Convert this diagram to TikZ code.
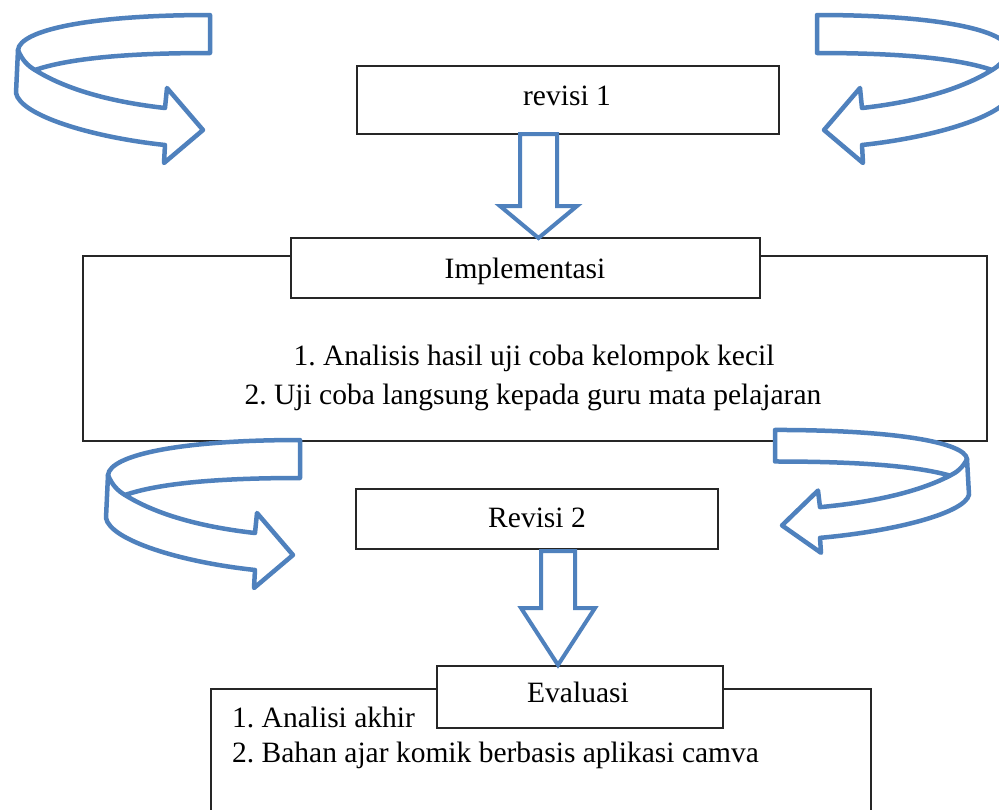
\documentclass[tikz,border=0pt]{standalone}
\usepackage{fontspec}
\setmainfont{Liberation Serif}
\frenchspacing
\definecolor{ob}{RGB}{79,129,189}
\tikzset{
  box/.style={draw=black!85, line width=1.3pt, fill=white, inner sep=0pt},
  txt/.style={font=\fontsize{29.5}{35}\selectfont, inner sep=0pt, anchor=base},
  rib/.style={draw=ob, line width=4.5pt, fill=white, line join=round, line cap=round},
  ribline/.style={draw=ob, line width=4.5pt, line cap=round},
  blockarrow/.style={draw=ob, line width=4pt, fill=white, line join=miter},
}
\newcommand\ribbonarrow[1]{%
  \begin{scope}[#1]
    \path[rib] (210,15) -- (210,53) .. controls (130,53) and (70,58) .. (35,70)
      .. controls (70,92) and (120,103) .. (165,108) -- (167,88) -- (203,130)
      -- (164,163) -- (165,145) .. controls (90,137) and (20,115) .. (16,93)
      -- (18,50) .. controls (20,30) and (90,15) .. (210,15) -- cycle;
    \draw[ribline] (18,50) .. controls (22,60) and (28,66) .. (35,70);
  \end{scope}}
\begin{document}
\begin{tikzpicture}[x=1pt,y=-1pt]
\useasboundingbox (0,0) rectangle (999,809);
\fill[white] (0,0) rectangle (999,809);
% boxes
\node[box, minimum width=904pt, minimum height=185pt] (big) at (535,348.5) {};
\node[box, minimum width=469pt, minimum height=60pt] (imp) at (525.5,268) {};
\node[box, minimum width=422pt, minimum height=68pt] (r1) at (568,100) {};
\node[box, minimum width=362pt, minimum height=60pt] (r2) at (537,519) {};
\node[box, minimum width=660pt, minimum height=141pt] (bot) at (541,759.5) {};
\node[box, minimum width=286pt, minimum height=62pt] (ev) at (580,697) {};
% texts
\node[txt] (t1) at (567,105) {revisi 1};
\node[txt] (t2) at (525,278) {Implementasi};
\node[txt] (t3) at (534,365) {1. Analisis hasil uji coba kelompok kecil};
\node[txt] (t4) at (533,404) {2. Uji coba langsung kepada guru mata pelajaran};
\node[txt] (t5) at (537,527) {Revisi 2};
\node[txt] (t6) at (578,702) {Evaluasi};
\node[txt, anchor=base west] (t7) at (232,727) {1. Analisi akhir};
\node[txt, anchor=base west] (t8) at (232,762) {2. Bahan ajar komik berbasis aplikasi camva};
% block arrows
\path[blockarrow] (520,134) -- (520,206) -- (500,206) -- (538.5,238) -- (577,206) -- (557,206) -- (557,134) -- cycle;
\path[blockarrow] (541,551) -- (541,608) -- (521,608) -- (558,665) -- (595,608) -- (575,608) -- (575,551) -- cycle;
% curved ribbon arrows
\ribbonarrow{}
\ribbonarrow{shift={(1027,0)},xscale=-1}
\ribbonarrow{shift={(90,425)},yscale=1.0}
\ribbonarrow{shift={(985,417.5)},xscale=-1,yscale=0.83}
\end{tikzpicture}
\end{document}
